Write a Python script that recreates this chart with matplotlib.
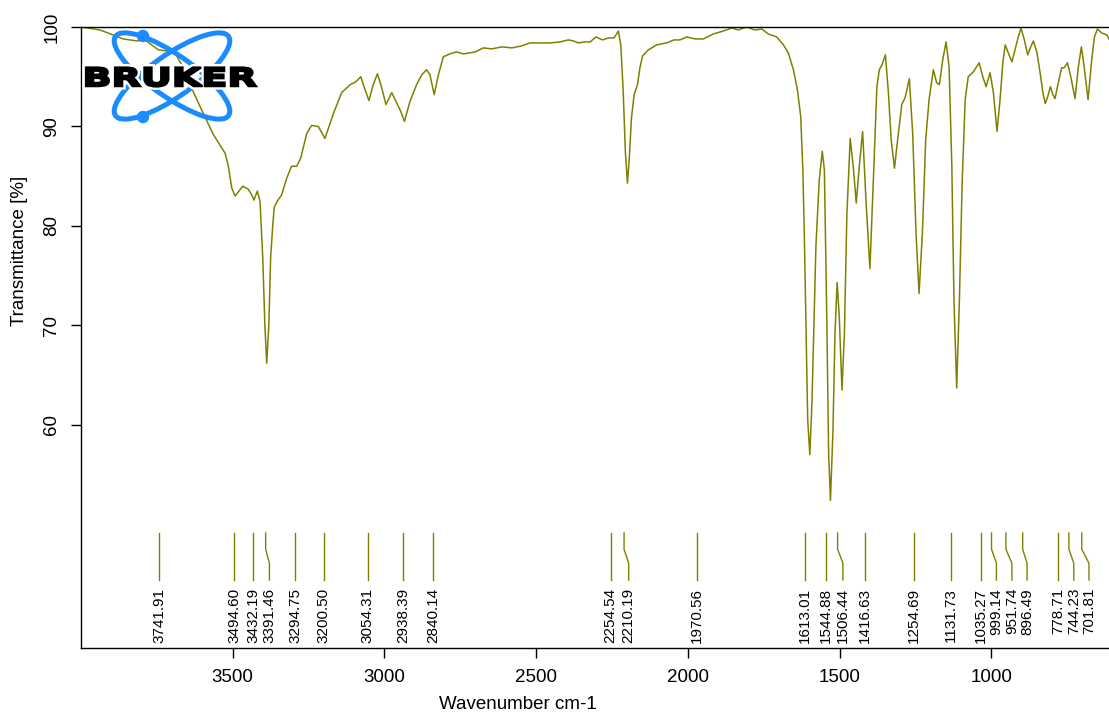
import matplotlib
matplotlib.use("Agg")
import matplotlib.pyplot as plt
from matplotlib.patches import Ellipse, Circle, PathPatch
from matplotlib.textpath import TextPath
from matplotlib.font_manager import FontProperties
from matplotlib.transforms import Affine2D
import matplotlib.patheffects as pe

plt.rcParams["font.family"] = ["Liberation Sans", "DejaVu Sans"]

# IR spectrum (wavenumber cm-1, transmittance %)
wavenumber = [
    4000, 3937, 3894, 3861, 3816, 3789, 3767, 3745, 3718, 3690,
    3663, 3630, 3597, 3564, 3525, 3515, 3503, 3492, 3467, 3449,
    3437, 3430, 3419, 3410, 3401, 3394, 3388, 3381, 3375, 3368,
    3363, 3353, 3339, 3322, 3306, 3289, 3276, 3256, 3240, 3218,
    3196, 3168, 3141, 3113, 3094, 3078, 3064, 3051, 3037, 3023,
    3009, 2995, 2976, 2960, 2946, 2934, 2916, 2894, 2877, 2861,
    2850, 2836, 2822, 2806, 2784, 2762, 2740, 2718, 2701, 2674,
    2646, 2613, 2580, 2548, 2520, 2487, 2454, 2421, 2394, 2377,
    2361, 2339, 2322, 2303, 2281, 2262, 2243, 2229, 2221, 2213,
    2206, 2199, 2193, 2186, 2177, 2166, 2158, 2149, 2130, 2103,
    2070, 2046, 2026, 2004, 1976, 1949, 1916, 1883, 1855, 1834,
    1806, 1779, 1756, 1735, 1707, 1685, 1669, 1652, 1639, 1628,
    1621, 1616, 1610, 1605, 1598, 1591, 1584, 1578, 1567, 1557,
    1550, 1542, 1536, 1530, 1522, 1515, 1508, 1501, 1492, 1484,
    1476, 1465, 1455, 1445, 1435, 1424, 1413, 1400, 1389, 1377,
    1369, 1360, 1349, 1339, 1330, 1319, 1310, 1295, 1284, 1270,
    1259, 1248, 1238, 1227, 1216, 1205, 1191, 1180, 1171, 1160,
    1149, 1139, 1130, 1123, 1114, 1105, 1096, 1086, 1076, 1059,
    1040, 1028, 1017, 1004, 993, 981, 971, 962, 954, 944,
    932, 922, 911, 902, 891, 880, 870, 861, 850, 839,
    830, 822, 814, 805, 797, 790, 779, 768, 760, 749,
    738, 724, 713, 703, 694, 681, 669, 660, 650, 636,
    619, 612,
]
transmittance = [
    100.0, 99.7, 99.2, 98.8, 98.6, 98.7, 98.2, 97.7, 97.6, 97.4,
    95.9, 93.5, 91.3, 89.2, 87.3, 86.1, 83.8, 83.0, 84.0, 83.7,
    83.1, 82.6, 83.5, 82.5, 76.8, 70.0, 66.2, 70.0, 76.8, 80.1,
    81.9, 82.5, 83.1, 84.8, 86.0, 86.0, 86.8, 89.3, 90.1, 90.0,
    88.8, 91.3, 93.4, 94.2, 94.5, 95.0, 93.7, 92.6, 94.2, 95.3,
    93.9, 92.2, 93.4, 92.4, 91.5, 90.5, 92.5, 94.2, 95.2, 95.7,
    95.2, 93.2, 95.2, 97.0, 97.3, 97.5, 97.3, 97.4, 97.5, 97.9,
    97.8, 98.0, 97.9, 98.1, 98.4, 98.4, 98.4, 98.5, 98.7, 98.6,
    98.4, 98.5, 98.5, 99.0, 98.7, 98.9, 98.9, 99.6, 98.2, 93.5,
    87.5, 84.3, 86.8, 90.8, 93.2, 94.2, 95.9, 97.1, 97.7, 98.2,
    98.4, 98.7, 98.7, 99.0, 98.8, 98.8, 99.3, 99.6, 99.9, 99.7,
    100.0, 99.7, 99.8, 99.3, 99.0, 98.2, 97.4, 95.7, 93.7, 91.0,
    85.6, 78.9, 68.9, 60.5, 57.0, 62.2, 70.5, 77.9, 84.6, 87.5,
    85.6, 70.5, 57.1, 52.4, 59.2, 69.3, 74.3, 70.9, 63.5, 69.2,
    81.0, 88.8, 86.0, 82.3, 86.0, 89.5, 82.6, 75.7, 84.3, 94.0,
    95.7, 96.2, 97.2, 93.4, 88.7, 85.8, 88.3, 92.2, 92.9, 94.8,
    89.3, 79.3, 73.2, 79.3, 88.7, 92.7, 95.7, 94.4, 94.2, 96.7,
    98.5, 96.0, 86.0, 72.6, 63.7, 72.6, 84.3, 92.7, 95.0, 95.5,
    96.4, 95.0, 94.0, 95.4, 93.4, 89.5, 92.7, 96.4, 98.2, 97.4,
    96.5, 97.7, 99.0, 99.9, 98.7, 97.2, 98.0, 98.6, 97.5, 95.4,
    93.4, 92.3, 93.0, 94.0, 93.2, 92.8, 94.4, 95.9, 95.9, 96.4,
    95.0, 92.8, 96.0, 98.0, 96.0, 92.7, 96.7, 99.0, 99.8, 99.4,
    99.2, 98.8,
]

# Peak picking table
peak_wn = [3741.91, 3494.60, 3432.19, 3391.46, 3294.75, 3200.50, 3054.31,
           2938.39, 2840.14, 2254.54, 2210.19, 1970.56, 1613.01, 1544.88,
           1506.44, 1416.63, 1254.69, 1131.73, 1035.27, 999.14, 951.74,
           896.49, 778.71, 744.23, 701.81]
# where each label ends up after spreading (same unless the leader bends)
peak_label_wn = [3741.91, 3494.60, 3432.19, 3379, 3294.75, 3200.50, 3054.31,
                 2938.39, 2840.14, 2254.54, 2195, 1970.56, 1613.01, 1544.88,
                 1489, 1416.63, 1254.69, 1131.73, 1035.27, 983, 932,
                 882, 778.71, 728, 678]

yticks = [60, 70, 80, 90, 100]
xticks = [3500, 3000, 2500, 2000, 1500, 1000]

olive = "#808000"
logo_blue = "#1a8cff"

fig = plt.figure(figsize=(11.09, 7.2), dpi=100)
ax = fig.add_axes([81 / 1109, 72 / 720, 1028 / 1109, 621 / 720])

ax.plot(wavenumber, transmittance, color=olive, lw=1.1)

# leader lines and rotated labels of the peak table
lead_y = [49.12, 47.49, 46.08, 44.40]
for w, wl in zip(peak_wn, peak_label_wn):
    ax.plot([w, w, wl, wl], lead_y, color=olive, lw=1)
    ax.text(wl, 43.6, f"{w:.2f}", rotation=90, ha="center", va="top",
            fontsize=11, color="black")

ax.set_xlim(4000, 612)
ax.set_ylim(37.56, 100)
ax.set_xticks(xticks)
ax.set_yticks(yticks)
ax.tick_params(direction="out", length=7, width=1, labelsize=13.5)
ax.tick_params(axis="x", pad=8)
ax.tick_params(axis="y", pad=8)
for lab in ax.get_yticklabels():
    lab.set_rotation(90)
    lab.set_va("center")

ax.spines["right"].set_visible(False)
for s in ["left", "bottom", "top"]:
    ax.spines[s].set_linewidth(1)

ax.set_xlabel("Wavenumber cm-1", fontsize=13.5)
ax.set_ylabel("Transmittance [%]", fontsize=13.5)
ax.xaxis.set_label_coords(0.425, -0.078)
ax.yaxis.set_label_coords(-0.052, 0.64)

# Bruker logo, drawn in pixel units of the picture
lax = fig.add_axes([80 / 1109, (720 - 125) / 720, 182 / 1109, 100 / 720])
lax.set_xlim(80, 262)
lax.set_ylim(125, 25)
lax.axis("off")
lax.patch.set_alpha(0)
for ang in (35, -35):
    lax.add_patch(Ellipse((172, 76), 138, 42, angle=ang, fill=False,
                          ec=logo_blue, lw=3.6))
for cy in (36, 117):
    lax.add_patch(Circle((143, cy), 5.5, color=logo_blue))

tp = TextPath((0, 0), "BRUKER", size=10,
              prop=FontProperties(family="DejaVu Sans", weight="bold"))
ext = tp.get_extents()
sx = (256 - 86) / ext.width
sy = (86.5 - 67.5) / ext.height
tr = Affine2D().translate(-ext.x0, -ext.y0).scale(sx, -sy).translate(86, 86.5)
logo_text = PathPatch(tr.transform_path(tp), fc="black", ec="none")
logo_text.set_path_effects([pe.Stroke(linewidth=5, foreground="white"),
                            pe.Stroke(linewidth=1.6, foreground="black"),
                            pe.Normal()])
lax.add_patch(logo_text)

fig.savefig("out.png", dpi=100)
